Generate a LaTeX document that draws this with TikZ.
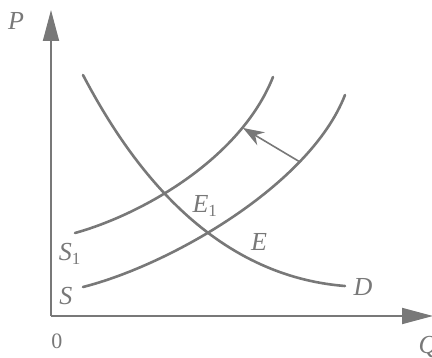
\documentclass[tikz,border=0pt]{standalone}
\usepackage{fontspec}
\setmainfont{Liberation Serif}
\usetikzlibrary{arrows.meta}
\definecolor{ink}{RGB}{120,120,120}
\tikzset{
  axis/.style={draw=ink,line width=1.8pt,-{Triangle[length=31pt,width=16pt]}},
  curve/.style={draw=ink,line width=2.6pt,line cap=round},
  shift arrow/.style={draw=ink,line width=1.6pt,-{Stealth[length=21pt,width=15pt]}},
  lbl/.style={text=ink,font=\fontsize{26}{28}\selectfont\itshape,inner sep=0pt}
}
\newcommand{\mysub}[1]{\textsubscript{\fontsize{17}{17}\selectfont\upshape #1}}
\begin{document}
\begin{tikzpicture}[x=1pt,y=-1pt]
\useasboundingbox (0,0) rectangle (432,358);
\coordinate (O) at (51,316);
\coordinate (Ptip) at (51,10);
\coordinate (Qtip) at (433,316);
\draw[axis] (O) -- (Ptip);
\draw[axis] (O) -- (Qtip);
\node[lbl] (P) at (16,21) {P};
\node[lbl] (Q) at (428,347) {Q};
\node[lbl,font=\fontsize{22}{24}\selectfont] (zero) at (57,341) {0};
% demand
\draw[curve] (83,75) .. controls (125,155) and (205,275) .. (345,286);
% supply S
\draw[curve] (83,287) .. controls (170,265) and (310,185) .. (345,95);
% supply S1
\draw[curve] (75,233) .. controls (140,215) and (240,160) .. (273,77);
\coordinate (a) at (300,162);
\coordinate (b) at (243,128);
\draw[shift arrow] (a) -- (b);
\node[lbl] (S1) at (70,254) {S\mysub{1}};
\node[lbl] (S) at (66,296) {S};
\node[lbl] (E1) at (205,206) {E\mysub{1}};
\node[lbl] (E) at (259,242) {E};
\node[lbl] (D) at (363,287) {D};
\end{tikzpicture}
\end{document}
